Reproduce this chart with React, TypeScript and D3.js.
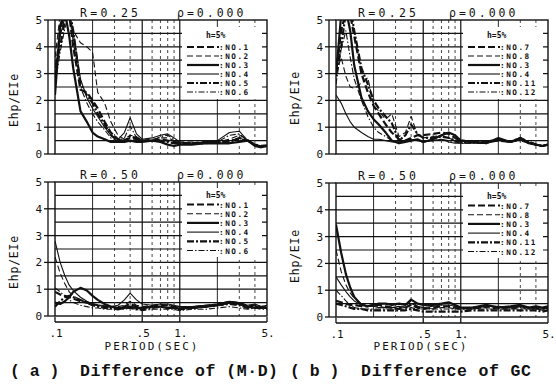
import * as d3 from "d3";

// periods (sec) at which every curve is sampled
const PERIODS = [0.1, 0.11, 0.12, 0.13, 0.14, 0.16, 0.18, 0.2, 0.22, 0.25, 0.28, 0.32, 0.36, 0.4, 0.45, 0.5, 0.6, 0.7, 0.8, 0.9, 1.0, 1.25, 1.6, 2.0, 2.5, 3.0, 3.5, 4.0, 4.5, 5.0];

const X_TICKS = [0.1, 0.5, 1, 5];
const X_TICK_LABELS = [".1", ".5", "1.", "5."];
const Y_TICKS = [0, 1, 2, 3, 4, 5];
const GRID_Y = [0.5, 1, 1.5, 2, 2.5, 3, 3.5, 4, 4.5];
const GRID_X_SOLID = [0.2, 0.5, 1, 2];
const GRID_X_DASHED = [0.3, 0.4, 0.6, 0.7, 0.8, 0.9, 3, 4];

const NAMES_A = ["NO.1", "NO.2", "NO.3", "NO.4", "NO.5", "NO.6"];
const NAMES_B = ["NO.7", "NO.8", "NO.3", "NO.4", "NO.11", "NO.12"];

// (a) Difference of (M.D), R=0.25
const A25_NO1 = [2.9, 4.6, 5.4, 5.2, 4.0, 2.4, 2.3, 2.0, 1.7, 1.2, 0.8, 0.55, 0.5, 0.6, 0.55, 0.5, 0.5, 0.55, 0.5, 0.45, 0.4, 0.4, 0.45, 0.45, 0.5, 0.55, 0.5, 0.35, 0.3, 0.32];
const A25_NO2 = [3.6, 5.2, 5.5, 5.2, 4.6, 4.15, 4.0, 3.8, 2.3, 1.9, 1.2, 0.7, 0.55, 0.7, 0.65, 0.5, 0.55, 0.6, 0.6, 0.5, 0.45, 0.45, 0.4, 0.45, 0.55, 0.7, 0.55, 0.35, 0.3, 0.3];
const A25_NO3 = [2.2, 4.8, 5.3, 4.4, 3.2, 1.6, 1.2, 0.8, 0.65, 0.55, 0.45, 0.45, 0.45, 0.5, 0.45, 0.45, 0.5, 0.45, 0.35, 0.3, 0.35, 0.35, 0.4, 0.4, 0.4, 0.45, 0.5, 0.3, 0.25, 0.3];
const A25_NO4 = [2.8, 4.4, 5.1, 5.3, 4.5, 2.8, 2.1, 1.7, 1.4, 1.0, 0.7, 0.55, 0.8, 1.35, 0.75, 0.55, 0.6, 0.7, 0.75, 0.6, 0.45, 0.4, 0.45, 0.5, 0.8, 0.85, 0.5, 0.35, 0.3, 0.3];
const A25_NO5 = [3.2, 4.0, 5.0, 5.4, 4.6, 2.6, 2.2, 1.9, 1.5, 1.1, 0.7, 0.5, 0.5, 0.65, 0.6, 0.5, 0.5, 0.5, 0.45, 0.4, 0.4, 0.4, 0.4, 0.45, 0.45, 0.6, 0.5, 0.35, 0.28, 0.3];
const A25_NO6 = [2.6, 3.8, 4.7, 5.2, 4.2, 2.5, 1.9, 1.5, 1.2, 0.9, 0.6, 0.5, 0.6, 1.05, 0.6, 0.5, 0.5, 0.65, 0.7, 0.55, 0.4, 0.4, 0.45, 0.45, 0.7, 0.75, 0.5, 0.35, 0.3, 0.3];

// (b) Difference of GC, R=0.25
const B25_NO7 = [3.0, 4.6, 5.3, 5.2, 4.4, 3.0, 2.3, 1.8, 1.5, 1.1, 0.8, 0.55, 0.5, 0.6, 0.7, 0.7, 0.75, 0.8, 0.75, 0.6, 0.5, 0.45, 0.45, 0.5, 0.45, 0.55, 0.45, 0.35, 0.3, 0.35];
const B25_NO8 = [3.0, 3.6, 2.9, 2.5, 2.45, 2.65, 2.85, 1.8, 1.6, 1.3, 1.5, 0.65, 0.8, 1.4, 0.7, 0.6, 0.65, 0.7, 0.6, 0.5, 0.45, 0.45, 0.45, 0.55, 0.45, 0.6, 0.45, 0.35, 0.3, 0.35];
const B25_NO3 = [2.9, 5.2, 5.4, 4.6, 3.3, 2.1, 1.6, 1.3, 1.1, 0.8, 0.5, 0.4, 0.45, 0.5, 0.55, 0.45, 0.55, 0.7, 0.8, 0.7, 0.5, 0.45, 0.4, 0.6, 0.45, 0.6, 0.4, 0.35, 0.3, 0.35];
const B25_NO4 = [2.2, 1.9, 1.5, 1.2, 1.0, 0.8, 0.65, 0.55, 0.55, 0.5, 0.45, 0.45, 0.5, 0.55, 0.5, 0.45, 0.5, 0.55, 0.45, 0.4, 0.4, 0.4, 0.4, 0.55, 0.45, 0.55, 0.4, 0.35, 0.3, 0.35];
const B25_NO11 = [3.0, 4.0, 5.3, 5.5, 4.6, 3.2, 2.6, 2.0, 1.7, 1.4, 1.15, 0.5, 0.7, 1.1, 0.75, 0.6, 0.6, 0.65, 0.6, 0.5, 0.45, 0.45, 0.45, 0.55, 0.45, 0.6, 0.45, 0.35, 0.3, 0.35];
const B25_NO12 = [2.6, 3.9, 4.6, 3.6, 2.8, 2.0, 1.4, 1.0, 0.8, 0.65, 0.5, 0.45, 0.5, 0.55, 0.5, 0.45, 0.5, 0.55, 0.5, 0.45, 0.4, 0.4, 0.4, 0.5, 0.45, 0.5, 0.4, 0.35, 0.3, 0.35];

// (a) R=0.50
const A50_NO1 = [0.9, 0.8, 0.75, 0.7, 0.65, 0.55, 0.5, 0.45, 0.4, 0.35, 0.35, 0.3, 0.35, 0.45, 0.35, 0.3, 0.35, 0.4, 0.4, 0.35, 0.3, 0.3, 0.35, 0.4, 0.5, 0.45, 0.35, 0.4, 0.3, 0.35];
const A50_NO2 = [2.2, 1.6, 1.2, 0.9, 0.75, 0.6, 0.5, 0.45, 0.4, 0.4, 0.35, 0.35, 0.4, 0.55, 0.4, 0.35, 0.4, 0.45, 0.4, 0.35, 0.35, 0.35, 0.4, 0.45, 0.55, 0.5, 0.4, 0.4, 0.35, 0.4];
const A50_NO3 = [0.5, 0.45, 0.55, 0.7, 0.9, 1.05, 0.95, 0.75, 0.6, 0.45, 0.35, 0.3, 0.3, 0.35, 0.3, 0.3, 0.35, 0.35, 0.3, 0.3, 0.28, 0.3, 0.35, 0.4, 0.5, 0.45, 0.35, 0.3, 0.3, 0.3];
const A50_NO4 = [2.8, 2.0, 1.5, 1.15, 0.95, 0.7, 0.55, 0.45, 0.4, 0.35, 0.35, 0.4, 0.6, 0.85, 0.6, 0.45, 0.4, 0.45, 0.45, 0.4, 0.35, 0.35, 0.4, 0.45, 0.55, 0.5, 0.4, 0.45, 0.35, 0.4];
const A50_NO5 = [0.35, 0.55, 0.7, 0.75, 0.7, 0.6, 0.5, 0.4, 0.35, 0.3, 0.3, 0.25, 0.3, 0.3, 0.25, 0.25, 0.3, 0.35, 0.3, 0.3, 0.25, 0.3, 0.35, 0.4, 0.45, 0.4, 0.3, 0.35, 0.3, 0.3];
const A50_NO6 = [1.05, 0.9, 0.75, 0.6, 0.5, 0.4, 0.35, 0.3, 0.3, 0.25, 0.25, 0.25, 0.25, 0.3, 0.25, 0.2, 0.25, 0.25, 0.25, 0.25, 0.2, 0.25, 0.25, 0.3, 0.35, 0.3, 0.25, 0.3, 0.25, 0.25];

// (b) R=0.50
const B50_NO7 = [0.6, 0.55, 0.5, 0.45, 0.45, 0.4, 0.4, 0.45, 0.45, 0.4, 0.35, 0.3, 0.35, 0.45, 0.35, 0.3, 0.35, 0.4, 0.4, 0.35, 0.3, 0.35, 0.4, 0.35, 0.35, 0.4, 0.35, 0.35, 0.3, 0.35];
const B50_NO8 = [2.5, 1.7, 1.2, 0.9, 0.7, 0.5, 0.4, 0.4, 0.4, 0.35, 0.35, 0.35, 0.4, 0.6, 0.4, 0.35, 0.3, 0.35, 0.35, 0.3, 0.3, 0.3, 0.35, 0.3, 0.3, 0.35, 0.3, 0.3, 0.25, 0.3];
const B50_NO3 = [3.45, 2.4, 1.6, 1.1, 0.75, 0.45, 0.4, 0.45, 0.5, 0.5, 0.45, 0.5, 0.45, 0.65, 0.5, 0.45, 0.45, 0.5, 0.55, 0.45, 0.35, 0.35, 0.45, 0.35, 0.4, 0.45, 0.35, 0.4, 0.35, 0.4];
const B50_NO4 = [1.5, 1.2, 0.95, 0.75, 0.6, 0.45, 0.4, 0.4, 0.35, 0.35, 0.35, 0.4, 0.35, 0.5, 0.4, 0.35, 0.4, 0.45, 0.45, 0.4, 0.35, 0.3, 0.4, 0.4, 0.35, 0.4, 0.35, 0.3, 0.3, 0.35];
const B50_NO11 = [0.5, 0.45, 0.4, 0.35, 0.3, 0.3, 0.25, 0.25, 0.25, 0.25, 0.25, 0.25, 0.25, 0.3, 0.25, 0.2, 0.2, 0.2, 0.2, 0.2, 0.2, 0.25, 0.25, 0.25, 0.25, 0.25, 0.25, 0.25, 0.2, 0.25];
const B50_NO12 = [1.0, 0.8, 0.6, 0.45, 0.35, 0.3, 0.3, 0.3, 0.3, 0.3, 0.3, 0.3, 0.3, 0.35, 0.3, 0.3, 0.3, 0.3, 0.3, 0.3, 0.3, 0.3, 0.3, 0.3, 0.3, 0.3, 0.3, 0.3, 0.3, 0.3];

// line style per legend slot: thick dash, thin dash, thick, thin, thick dash-dot, thin dash-dot
const STYLES = [
  { w: 2.2, dash: "7,3" },
  { w: 1.1, dash: "6,3" },
  { w: 2.2, dash: undefined },
  { w: 1.1, dash: undefined },
  { w: 2.2, dash: "7,2,2,2" },
  { w: 1.1, dash: "6,2,1.5,2" },
];

const INK = "#111";
const MONO = "'DejaVu Sans Mono', monospace";

interface PanelProps {
  id: string;
  left: number;
  top: number;
  r: string;
  series: number[][];
  names: string[];
  xAxis: boolean;
  titleOff: [number, number];
  yLabelY: number;
}

function Panel({ id, left, top, r, series, names, xAxis, titleOff, yLabelY }: PanelProps) {
  const right = left + 212;
  const bottom = top + 134;
  const x = d3.scaleLog().domain([0.1, 5]).range([left, right]);
  const y = d3.scaleLinear().domain([0, 5]).range([bottom, top]);
  const line = d3
    .line<number>()
    .x((_, i) => x(PERIODS[i]))
    .y((v) => y(v));

  const axisX = left - 7;
  const isTop = !xAxis;
  const box = isTop ? { y0: top + 7, y1: top + 79 } : { y0: top + 6, y1: top + 75 };
  const hY = isTop ? top + 18 : top + 16;
  const rowY = (i: number) => (isTop ? top + 27 + 9 * i : top + 22.5 + 9.2 * i);

  return (
    <g>
      <defs>
        <clipPath id={`clip-${id}`}>
          <rect x={left} y={top} width={right - left} height={bottom - top} />
        </clipPath>
      </defs>

      {/* grid */}
      {GRID_Y.map((v) => (
        <line key={`gy${v}`} x1={left} x2={right} y1={y(v)} y2={y(v)} stroke={INK} strokeWidth={1.2} />
      ))}
      {GRID_X_SOLID.map((v) => (
        <line key={`gs${v}`} x1={x(v)} x2={x(v)} y1={top} y2={bottom} stroke={INK} strokeWidth={v === 0.5 || v === 1 ? 1.2 : 0.9} />
      ))}
      {GRID_X_DASHED.map((v) => (
        <line key={`gd${v}`} x1={x(v)} x2={x(v)} y1={top} y2={bottom} stroke="#333" strokeWidth={0.9} strokeDasharray="3,3" />
      ))}

      {/* legend box */}
      <rect x={left + 127} y={box.y0} width={80} height={box.y1 - box.y0} fill="#fff" />

      {/* curves */}
      <g clipPath={`url(#clip-${id})`}>
        {series.map((s, i) => (
          <path
            key={i}
            d={line(s) ?? ""}
            fill="none"
            stroke={INK}
            strokeWidth={STYLES[i].w}
            strokeDasharray={STYLES[i].dash}
            strokeLinejoin="round"
          />
        ))}
      </g>

      {/* frame */}
      <rect x={left} y={top} width={right - left} height={bottom - top} fill="none" stroke={INK} strokeWidth={1.4} />

      {/* y axis */}
      <line x1={axisX} x2={axisX} y1={top} y2={bottom} stroke={INK} strokeWidth={1.3} />
      {Y_TICKS.map((v) => (
        <g key={`yt${v}`}>
          <line x1={axisX - 4} x2={left} y1={y(v)} y2={y(v)} stroke={INK} strokeWidth={1.3} />
          <text x={axisX - 6} y={y(v) + 4} textAnchor="end" fontFamily={MONO} fontSize={11} fill={INK}>
            {v}
          </text>
        </g>
      ))}
      <text
        transform={`translate(${left - 37},${yLabelY}) rotate(-90)`}
        textAnchor="middle"
        fontFamily={MONO}
        fontSize={11.5}
        letterSpacing={0.8}
        fill={INK}
      >
        Ehp/EIe
      </text>

      {/* titles */}
      <text x={left + titleOff[0]} y={top - 3} fontFamily={MONO} fontSize={11.5} letterSpacing={3.3} fill={INK}>
        {`R=${r}`}
      </text>
      <text x={left + titleOff[1]} y={top - 3} fontFamily={MONO} fontSize={11.5} letterSpacing={3.0} fill={INK}>
        ρ=0.000
      </text>

      {/* legend */}
      <text x={left + 151} y={hY} fontFamily={MONO} fontSize={8} fontWeight="bold" fill={INK}>
        h=5%
      </text>
      {names.map((n, i) => (
        <g key={n}>
          <line
            x1={left + 132}
            x2={left + 164}
            y1={rowY(i)}
            y2={rowY(i)}
            stroke={INK}
            strokeWidth={STYLES[i].w}
            strokeDasharray={STYLES[i].dash}
          />
          <text x={left + 164} y={rowY(i) + 3} fontFamily={MONO} fontSize={7.7} fontWeight="bold" letterSpacing={1.5} fill={INK}>
            {`:${n}`}
          </text>
        </g>
      ))}

      {/* x axis */}
      {xAxis && (
        <g>
          <line x1={left} x2={right} y1={bottom + 6} y2={bottom + 6} stroke={INK} strokeWidth={1.3} />
          {X_TICKS.map((t, i) => (
            <g key={`xt${t}`}>
              <line x1={x(t)} x2={x(t)} y1={bottom + 1} y2={bottom + 6} stroke={INK} strokeWidth={1.3} />
              <text x={x(t) + 1} y={bottom + 21} textAnchor="middle" fontFamily={MONO} fontSize={11} fill={INK}>
                {X_TICK_LABELS[i]}
              </text>
            </g>
          ))}
        </g>
      )}
    </g>
  );
}

export default function App() {
  return (
    <svg
      width={556}
      height={389}
      style={{ position: "absolute", left: 0, top: 0, background: "#fff" }}
    >
      <rect width={556} height={389} fill="#fff" />
      <Panel id="a25" left={55} top={20} r="0.25" names={NAMES_A} xAxis={false} titleOff={[25, 122]} yLabelY={100}
        series={[A25_NO1, A25_NO2, A25_NO3, A25_NO4, A25_NO5, A25_NO6]} />
      <Panel id="b25" left={336} top={20} r="0.25" names={NAMES_B} xAxis={false} titleOff={[22, 113]} yLabelY={98}
        series={[B25_NO7, B25_NO8, B25_NO3, B25_NO4, B25_NO11, B25_NO12]} />
      <Panel id="a50" left={55} top={182} r="0.50" names={NAMES_A} xAxis={true} titleOff={[25, 122]} yLabelY={262}
        series={[A50_NO1, A50_NO2, A50_NO3, A50_NO4, A50_NO5, A50_NO6]} />
      <Panel id="b50" left={336} top={183} r="0.50" names={NAMES_B} xAxis={true} titleOff={[22, 113]} yLabelY={256}
        series={[B50_NO7, B50_NO8, B50_NO3, B50_NO4, B50_NO11, B50_NO12]} />

      <text x={152} y={350} textAnchor="middle" fontFamily={MONO} fontSize={11} letterSpacing={2} fill={INK}>
        PERIOD(SEC)
      </text>
      <text x={421} y={350} textAnchor="middle" fontFamily={MONO} fontSize={11} letterSpacing={2} fill={INK}>
        PERIOD(SEC)
      </text>

      <g fontFamily="'Liberation Mono', monospace" fontSize={16.5} fontWeight="bold" fill={INK}>
        <text x={10} y={376}>( a )</text>
        <text x={80} y={376} textLength={198} lengthAdjust="spacing">Difference of (M·D)</text>
        <text x={290} y={376}>( b )</text>
        <text x={361} y={376} textLength={170} lengthAdjust="spacing">Difference of GC</text>
      </g>
    </svg>
  );
}
